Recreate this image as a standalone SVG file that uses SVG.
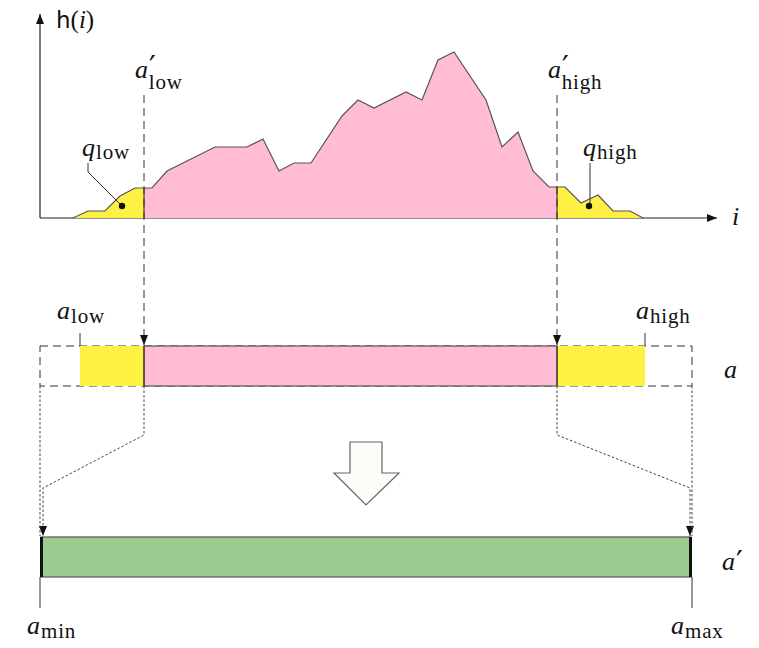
<svg xmlns="http://www.w3.org/2000/svg" width="759" height="648" viewBox="0 0 759 648">
<style>
.m{font-family:"Liberation Serif","Times New Roman",serif;font-style:italic;font-size:26px;fill:#111}
.s{font-family:"Liberation Serif","Times New Roman",serif;font-style:normal;font-size:21px;letter-spacing:0.8px;fill:#111}
.p{font-family:"DejaVu Sans",sans-serif;font-style:normal;font-size:30px;fill:#111}
.ax{stroke:#222;stroke-width:1.2;fill:none}
.hist{stroke:#555;stroke-width:1.2}
.dash{stroke:#333;stroke-width:1;fill:none;stroke-dasharray:8 5}
.dot{stroke:#444;stroke-width:1;fill:none;stroke-dasharray:2.5 2}
.thin{stroke:#333;stroke-width:1;fill:none}
</style>
<defs>
<marker id="ah" markerWidth="10" markerHeight="12" refX="10" refY="5" orient="auto" markerUnits="userSpaceOnUse" viewBox="0 0 10 10">
<path d="M0,1 L10,5 L0,9 Z" fill="#111"/>
</marker>
</defs>
<g id="axes">
<line class="ax" x1="40" y1="218" x2="40" y2="14" marker-end="url(#ah)"/>
<line class="ax" x1="40" y1="218" x2="717" y2="218" marker-end="url(#ah)"/>
<text x="56" y="28" font-family="DejaVu Sans,sans-serif" font-size="23" fill="#111">h<tspan font-family="Liberation Serif,serif" font-size="25">(</tspan><tspan font-family="Liberation Serif,serif" font-style="italic" font-size="25">i</tspan><tspan font-family="Liberation Serif,serif" font-size="25">)</tspan></text>
<text class="m" x="732" y="225">i</text>
</g>
<g id="histogram">
<polygon fill="#fff044" stroke="none" points="73,218 88,211 105,211 120,196 135,188 144,188 144,218"/>
<polygon fill="#ffbcd4" stroke="none" points="144,188 152,188 167,171 215,147 247,147 263,139 279,171 294,163 311,163 342,116 358,100 374,108 406,92 422,100 438,60 454,52 486,100 502,147 518,132 533,171 549,187 557,187 557,218 144,218"/>
<polygon fill="#fff044" stroke="none" points="557,187 565,187 581,203 598,195 613,211 630,211 643,218 557,218"/>
<polyline class="hist" fill="none" points="73,218 88,211 105,211 120,196 135,188 152,188 167,171 215,147 247,147 263,139 279,171 294,163 311,163 342,116 358,100 374,108 406,92 422,100 438,60 454,52 486,100 502,147 518,132 533,171 549,187 565,187 581,203 598,195 613,211 630,211 643,218"/>
<line stroke="#222" stroke-width="1" x1="144" y1="188" x2="144" y2="218"/>
<line stroke="#222" stroke-width="1" x1="557" y1="187" x2="557" y2="218"/>
</g>
<g id="q-low">
<polyline class="thin" points="88,163 88,172 122,206"/>
<circle cx="122" cy="206" r="3.2" fill="#111"/>
<text class="m" x="82" y="156">q</text>
<text class="s" x="96" y="159">low</text>
</g>
<g id="q-high">
<polyline class="thin" points="590,163 590,206"/>
<circle cx="589" cy="206" r="3.2" fill="#111"/>
<text class="m" x="583" y="156">q</text>
<text class="s" x="597" y="159">high</text>
</g>
<g id="a-prime-low">
<text class="m" x="135" y="78">a<tspan class="p" dx="1" dy="-1">′</tspan><tspan class="s" dx="-7" dy="12">low</tspan></text>
</g>
<g id="a-prime-high">
<text class="m" x="548" y="78">a<tspan class="p" dx="1" dy="-1">′</tspan><tspan class="s" dx="-7" dy="12">high</tspan></text>
</g>
<g id="bar-a">
<rect x="40" y="346" width="652" height="40" fill="none" class="dash"/>
<rect x="80" y="346" width="64" height="40" fill="#fff044"/>
<rect x="557" y="346" width="88" height="40" fill="#fff044"/>
<rect x="144" y="346" width="413" height="40" fill="#ffbcd4" stroke="#555" stroke-width="1.2"/>
<line stroke="#222" stroke-width="1" x1="144" y1="346" x2="144" y2="386"/>
<line stroke="#222" stroke-width="1" x1="557" y1="346" x2="557" y2="386"/>
<line class="thin" x1="80" y1="333" x2="80" y2="346"/>
<line class="thin" x1="645" y1="333" x2="645" y2="346"/>
<text class="m" x="57" y="319">a</text>
<text class="s" x="71" y="323">low</text>
<text class="m" x="636" y="319">a</text>
<text class="s" x="650" y="323">high</text>
<text class="m" x="724" y="378">a</text>
</g>
<g id="bar-a-prime">
<rect x="41" y="537" width="650" height="40" fill="#9ccd90" stroke="#555" stroke-width="1.2"/>
<line stroke="#111" stroke-width="3" x1="41.5" y1="537" x2="41.5" y2="577"/>
<line stroke="#111" stroke-width="3" x1="690.5" y1="537" x2="690.5" y2="577"/>
<line class="thin" x1="40" y1="577" x2="40" y2="608"/>
<line class="thin" x1="692" y1="577" x2="692" y2="608"/>
<text class="m" x="27" y="634">a</text>
<text class="s" x="41" y="638">min</text>
<text class="m" x="671" y="634">a</text>
<text class="s" x="685" y="638">max</text>
<text class="m" x="722" y="570">a<tspan class="p" dx="1" dy="2">′</tspan></text>
</g>
<g id="down-arrow">
<polygon points="350,442 382,442 382,473 399,473 366,505 334,473 350,473" fill="#fdfdf8" stroke="#666" stroke-width="1.2"/>
</g>
<g id="connectors">
<line class="dash" x1="144" y1="95" x2="144" y2="345" marker-end="url(#ah)"/>
<line class="dash" x1="557" y1="95" x2="557" y2="345" marker-end="url(#ah)"/>
<polyline class="dot" points="144,386 144,435 43,488 43,536" marker-end="url(#ah)"/>
<line class="dot" x1="40" y1="386" x2="40" y2="536"/>
<polyline class="dot" points="557,386 557,435 690,488 690,536" marker-end="url(#ah)"/>
<line class="dot" x1="692" y1="386" x2="692" y2="536"/>
</g>
</svg>
